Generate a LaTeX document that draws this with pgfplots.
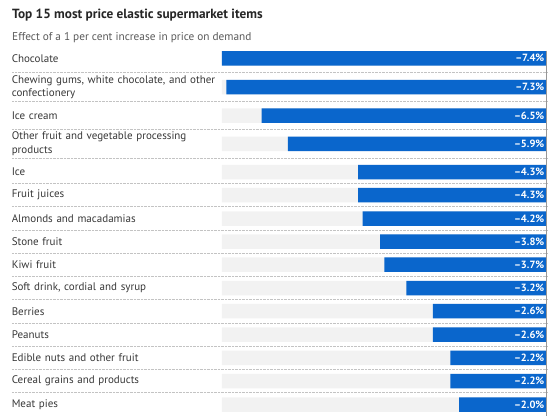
\documentclass[border=0pt]{standalone}
\usepackage{fontspec}
\setmainfont{PT Sans}
\usepackage{pgfplots}
\usepackage{pgfplotstable}
\pgfplotsset{compat=1.18}
\definecolor{barblue}{RGB}{10,102,204}
\definecolor{bggrey}{RGB}{242,242,242}
\definecolor{sepgrey}{RGB}{195,195,195}
\definecolor{zerogrey}{RGB}{150,150,150}
\definecolor{txt}{RGB}{55,55,55}
\definecolor{subtxt}{RGB}{90,90,90}
\pgfplotstableread{
y val lab full
58.3 -7.4 7.4 -7.4
87 -7.3 7.3 -7.4
115.5 -6.5 6.5 -7.4
143.8 -5.9 5.9 -7.4
172 -4.3 4.3 -7.4
195 -4.3 4.3 -7.4
218.5 -4.2 4.2 -7.4
241.5 -3.8 3.8 -7.4
264.7 -3.7 3.7 -7.4
288 -3.2 3.2 -7.4
311.2 -2.6 2.6 -7.4
334.5 -2.6 2.6 -7.4
357.8 -2.2 2.2 -7.4
381 -2.2 2.2 -7.4
404.5 -2.0 2.0 -7.4
}\data
\begin{document}
\begin{tikzpicture}
\path[use as bounding box] (0,0) rectangle (560pt,-420pt);
\node[anchor=west, inner sep=0pt, text=black!85] at (12pt,-15pt) {\fontsize{13.3}{15}\selectfont\bfseries Top 15 most price elastic supermarket items};
\node[anchor=west, inner sep=0pt, text=subtxt] at (12pt,-38pt) {\fontsize{11.3}{13}\selectfont Effect of a 1 per cent increase in price on demand};
\begin{axis}[
  at={(222pt,-45pt)}, anchor=north west,
  scale only axis, width=325pt, height=375pt,
  xmin=-7.4, xmax=0, ymin=45, ymax=420, y dir=reverse,
  axis line style={draw=none}, tick style={draw=none},
  major tick length=0pt,
  xtick=\empty,
  /pgf/number format/assume math mode=true,
  ytick={58.3,87,115.5,143.8,172,195,218.5,241.5,264.7,288,311.2,334.5,357.8,381,404.5},
  yticklabels={Chocolate,{Chewing gums, white chocolate, and other\\confectionery},Ice cream,{Other fruit and vegetable processing\\products},Ice,Fruit juices,Almonds and macadamias,Stone fruit,Kiwi fruit,{Soft drink, cordial and syrup},Berries,Peanuts,Edible nuts and other fruit,Cereal grains and products,Meat pies},
  yticklabel style={text width=205pt, align=left, inner sep=0pt, anchor=east, xshift=-5pt, text=txt, font=\fontsize{11}{13.5}\selectfont},
  clip=false,
]
\pgfplotsinvokeforeach{72.6,101.2,129.6,158,183.5,206.8,230,253.1,276.3,299.6,322.9,346.1,369.4,392.7}{
  \draw[sepgrey, line width=0.7pt, dash pattern=on 0.7pt off 0.7pt] ([xshift=-210pt]axis cs:-7.4,#1) -- (axis cs:0,#1);
}
\addplot[xbar, bar shift=0pt, bar width=14.5pt, fill=bggrey, draw=none] table[x=full,y=y] {\data};
\addplot[xbar, bar shift=0pt, bar width=14.5pt, fill=barblue, draw=none,
  visualization depends on={\thisrow{lab} \as \lab},
  visualization depends on={\thisrow{lab}*43.919 \as \sh},
  nodes near coords={--\pgfmathprintnumber[fixed,fixed zerofill,precision=1,assume math mode=true]{\lab}\%},
  every node near coord/.append style={anchor=east, xshift=\sh pt-2.5pt, text=white, font=\fontsize{10.5}{12}\selectfont\bfseries, inner sep=0pt},
] table[x=val,y=y] {\data};
\draw[zerogrey, line width=1pt] (axis cs:0,50.5) -- (axis cs:0,416);
\end{axis}
\end{tikzpicture}
\end{document}
